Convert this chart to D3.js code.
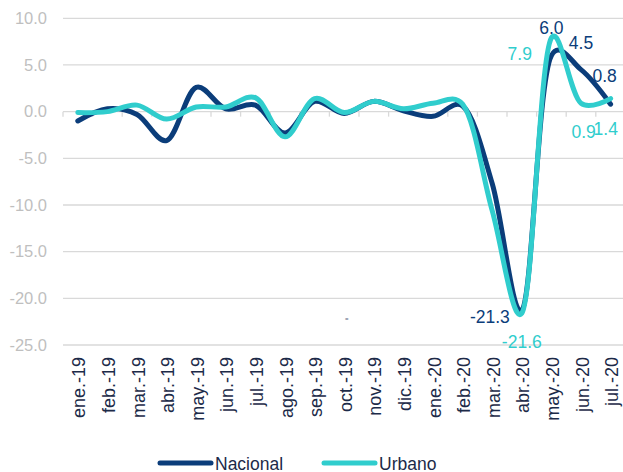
<!DOCTYPE html>
<html>
<head>
<meta charset="utf-8">
<script src="https://cdn.jsdelivr.net/npm/d3@7"></script>
<style>
    body { margin: 0; background: #fff; }
    svg text { font-family: "Liberation Sans", Arial, sans-serif; }
</style>
</head>
<body>
<div id="chart"></div>
<script>
// months on the x axis
let months = ["ene.-19", "feb.-19", "mar.-19", "abr.-19", "may.-19", "jun.-19", "jul.-19",
    "ago.-19", "sep.-19", "oct.-19", "nov.-19", "dic.-19", "ene.-20", "feb.-20", "mar.-20",
    "abr.-20", "may.-20", "jun.-20", "jul.-20"];

// monthly variation, %
let nacional = [-1.0, 0.3, -0.3, -3.1, 2.6, 0.3, 0.7, -2.3, 1.1, -0.2, 1.1, 0.1, -0.5, 0.6, -7.7, -21.3, 6.0, 4.5, 0.8];
let urbano = [-0.1, 0.0, 0.7, -0.8, 0.5, 0.5, 1.5, -2.7, 1.4, -0.1, 1.1, 0.3, 0.9, 0.8, -10.6, -21.6, 7.9, 0.9, 1.4];

let yTicks = [10, 5, 0, -5, -10, -15, -20, -25];

// labelled points: [month index, dx, dy, anchor]
let nacionalLabels = [[15, -12, 12.5, "end"], [16, 0, -22, "middle"], [17, 0, -21, "middle"], [18, -6, -22.5, "middle"]];
let urbanoLabels = [[15, 0, 35, "middle"], [16, -19.5, 22, "end"], [17, -9.5, 35, "start"], [18, -17, 36, "start"]];

let navy = "#0b3d7a";
let teal = "#30cdcd";

let width = 623, height = 472;

let svg = d3.select("#chart").append("svg")
    .attr("width", width)
    .attr("height", height);

let x = d3.scaleBand()
    .domain(months)
    .range([63, 625.4]);

let y = d3.scaleLinear()
    .domain([-25, 10])
    .range([345, 18.3]);

// gridlines
svg.append("g")
    .selectAll("line")
    .data(yTicks)
    .join("line")
    .attr("x1", 63)
    .attr("x2", width)
    .attr("y1", d => y(d))
    .attr("y2", d => y(d))
    .attr("stroke", "#d9d9d9")
    .attr("stroke-width", 1.3);

// y axis labels
let yAxis = d3.axisLeft(y)
    .tickValues(yTicks)
    .tickSize(0)
    .tickPadding(16)
    .tickFormat(d => d.toFixed(1));

svg.append("g")
    .attr("transform", "translate(63,0)")
    .call(yAxis)
    .call(g => g.select(".domain").remove())
    .selectAll("text")
    .attr("fill", "#bfbfbf")
    .style("font-size", "16.5px");

// tick marks on the zero line, at the band edges
svg.append("g")
    .selectAll("line")
    .data(months)
    .join("line")
    .attr("x1", d => x(d))
    .attr("x2", d => x(d))
    .attr("y1", y(0))
    .attr("y2", y(0) + 5)
    .attr("stroke", "#d9d9d9")
    .attr("stroke-width", 1.3);

// x axis labels at the bottom, rotated
let xAxis = d3.axisBottom(x).tickSize(0);

svg.append("g")
    .attr("transform", "translate(0," + y(-25) + ")")
    .call(xAxis)
    .call(g => g.select(".domain").remove())
    .selectAll("text")
    .attr("transform", "rotate(-90)")
    .attr("x", -12)
    .attr("y", 0)
    .attr("dy", "0.42em")
    .attr("text-anchor", "end")
    .attr("fill", "#1c2a48")
    .style("font-size", "18px");

// lines
let line = d3.line()
    .curve(d3.curveCatmullRom.alpha(0.25))
    .x((d, i) => x(months[i]) + x.bandwidth() / 2)
    .y(d => y(d));

svg.append("path")
    .datum(nacional)
    .attr("fill", "none")
    .attr("stroke", navy)
    .attr("stroke-width", 5)
    .attr("stroke-linecap", "round")
    .attr("d", line);

svg.append("path")
    .datum(urbano)
    .attr("fill", "none")
    .attr("stroke", teal)
    .attr("stroke-width", 5)
    .attr("stroke-linecap", "round")
    .attr("d", line);

// data labels
function addLabels(values, labels, color) {
    svg.append("g")
        .selectAll("text")
        .data(labels)
        .join("text")
        .attr("x", d => x(months[d[0]]) + x.bandwidth() / 2 + d[1])
        .attr("y", d => y(values[d[0]]) + d[2])
        .attr("text-anchor", d => d[3])
        .attr("fill", color)
        .style("font-size", "17.5px")
        .text(d => values[d[0]].toFixed(1));
}

addLabels(nacional, nacionalLabels, navy);
addLabels(urbano, urbanoLabels, teal);

// stray mark in the original
svg.append("text")
    .attr("x", 345)
    .attr("y", 321)
    .attr("fill", "#55607a")
    .style("font-size", "6px")
    .text("=");

// legend
let legend = [["Nacional", navy, 158], ["Urbano", teal, 322]];

let lg = svg.append("g")
    .selectAll("g")
    .data(legend)
    .join("g")
    .attr("transform", d => "translate(" + d[2] + ",463)");

lg.append("line")
    .attr("x1", 2)
    .attr("x2", 53)
    .attr("stroke", d => d[1])
    .attr("stroke-width", 5)
    .attr("stroke-linecap", "round");

lg.append("text")
    .attr("x", 57)
    .attr("y", 6.5)
    .attr("fill", "#1c2a48")
    .style("font-size", "17.5px")
    .text(d => d[0]);
</script>
</body>
</html>
